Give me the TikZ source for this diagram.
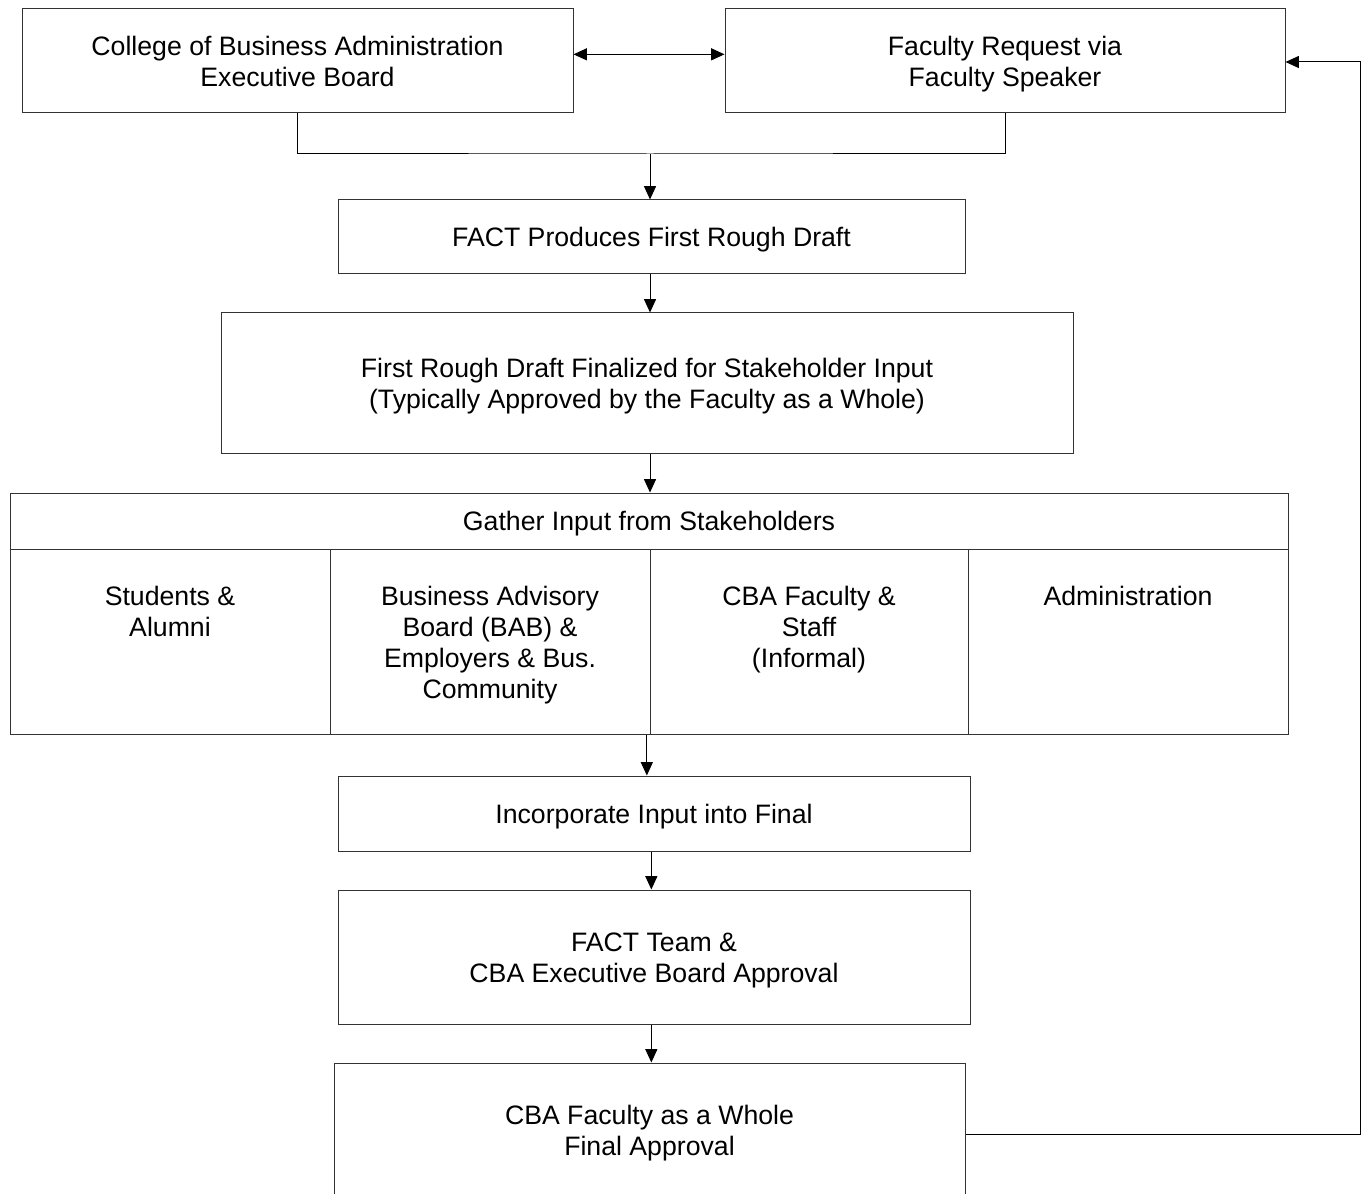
\documentclass[tikz,border=0pt]{standalone}
\usepackage{fontspec}
\setmainfont{Liberation Sans}
\usetikzlibrary{arrows.meta}

\begin{document}
\begin{tikzpicture}[x=0.75pt,y=-0.75pt,
	>={Triangle[length=10pt,width=9pt]},
	box/.style n args={3}{draw=black!80, line width=0.75pt, minimum width=#1*0.75pt, minimum height=#2*0.75pt, inner sep=0pt,
		label={[boxtext]center:{#3}}},
	boxtext/.style={inner sep=0pt, align=center, yshift=-2.25pt, font=\fontsize{20}{23.25}\selectfont},
	coltext/.style={anchor=north, inner sep=0pt, align=center, font=\fontsize{20}{23.25}\selectfont},
	link/.style={line width=0.75pt, black}]

	\useasboundingbox (0,0) rectangle (1362,1194);
	\clip (0,0) rectangle (1362,1194);

	% top row
	\node[box={551}{104}{College of Business Administration\\Executive Board\vphantom{y}}] (board) at (297.5,61) {};
	\node[box={560}{104}{Faculty Request via\\Faculty Speaker}] (request) at (1005,61) {};
	\coordinate (merge) at (650,154);
	\coordinate (loop) at (1360,62);

	% drafts
	\node[box={627}{74}{FACT Produces First Rough Draft}] (rough) at (651.5,237) {};
	\node[box={852}{140}{First Rough Draft Finalized for Stakeholder Input\\(Typically Approved by the Faculty as a Whole)}] (finalized) at (647,383) {};

	% stakeholders
	\node[box={1278}{56}{Gather Input from Stakeholders}] (gather) at (649,521) {};
	\node[box={320}{185}{}] (students) at (170,641.5) {};
	\node[box={320}{185}{}] (advisory) at (490,641.5) {};
	\node[box={318}{185}{}] (faculty) at (809,641.5) {};
	\node[box={320}{185}{}] (admin) at (1128,641.5) {};
	\node[coltext] (studentsT) at ([yshift=-27.75pt]students.north) {Students \&\\Alumni};
	\node[coltext] (advisoryT) at ([yshift=-27.75pt]advisory.north) {Business Advisory\\Board (BAB) \&\\Employers \& Bus.\\Community};
	\node[coltext] (facultyT) at ([yshift=-27.75pt]faculty.north) {CBA Faculty \&\\Staff\\(Informal)};
	\node[coltext] (adminT) at ([yshift=-27.75pt]admin.north) {Administration};

	% approvals
	\node[box={632}{75}{Incorporate Input into Final}] (incorp) at (654,813.5) {};
	\node[box={632}{134}{FACT Team \&\\CBA Executive Board Approval}] (team) at (654,957) {};
	\node[box={631}{135}{CBA Faculty as a Whole\\Final Approval}] (whole) at (649.5,1130.5) {};

	% connectors
	\draw[link,<->] ([yshift=5pt]board.east) -- ([yshift=5pt]request.west);
	\draw[link] (board.south) |- (merge) -| (request.south);
	\draw[link,->] (merge) -- (merge |- rough.north);
	\draw[link,->] (rough.south -| merge) -- (merge |- finalized.north);
	\draw[link,->] (finalized.south -| merge) -- (merge |- gather.north);
	\draw[link,->] ([xshift=-2pt]faculty.south west) -- ([xshift=-2pt]faculty.south west |- incorp.north);
	\draw[link,->] ([xshift=-2pt]incorp.south) -- ([xshift=-2pt]incorp.south |- team.north);
	\draw[link,->] ([xshift=-2pt]team.south) -- ([xshift=-2pt]team.south |- whole.north);
	\draw[link,->] ([yshift=-3pt]whole.east) -| (loop) -- (loop -| request.east);
\end{tikzpicture}
\end{document}
